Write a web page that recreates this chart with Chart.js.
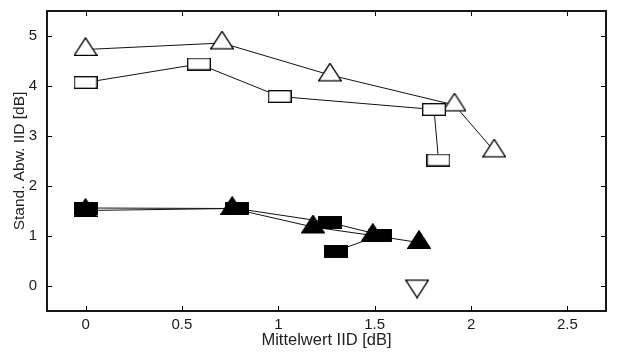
<!DOCTYPE html>
<html>
<head>
<meta charset="utf-8">
<script src="https://cdn.jsdelivr.net/npm/chart.js@4/dist/chart.umd.min.js"></script>
<style>
  html, body { margin: 0; padding: 0; background: #fff; }
  #wrap { width: 617px; height: 354px; }
</style>
</head>
<body>
<div id="wrap"><canvas id="c" width="617" height="354"></canvas></div>
<script>
// ---- data ----
const openTriX = [0, 0.708, 1.268, 1.914, 2.12];
const openTriY = [4.73, 4.86, 4.22, 3.62, 2.70];

const openSqX = [0, 0.588, 1.007, 1.808, 1.831];
const openSqY = [4.07, 4.44, 3.79, 3.53, 2.52];

const fillTriX = [0, 0.761, 1.18, 1.49, 1.73];
const fillTriY = [1.51, 1.55, 1.18, 1.01, 0.87];

const fillSqX = [0, 0.784, 1.266, 1.53, 1.30];
const fillSqY = [1.56, 1.55, 1.27, 1.02, 0.70];

const downTriX = [1.72];
const downTriY = [0];

const xTicks = [0, 0.5, 1, 1.5, 2, 2.5];
const yTicks = [0, 1, 2, 3, 4, 5];

const xTitle = 'Mittelwert IID [dB]';
const yTitle = 'Stand. Abw. IID [dB]';

// ---- marker images ----
function marker(kind, filled) {
  const c = document.createElement('canvas');
  const ctx = c.getContext('2d');
  const lw = 1.3;
  if (kind === 'rect') {
    c.width = 24; c.height = 13;
    ctx.fillStyle = filled ? '#000' : '#fff';
    ctx.fillRect(0.5, 0.5, 23, 12);
    ctx.strokeStyle = '#000'; ctx.lineWidth = lw;
    ctx.strokeRect(0.7, 0.7, 22.6, 11.6);
  } else if (kind === 'up') {
    c.width = 24; c.height = 25;
    ctx.beginPath();
    ctx.moveTo(12, 0.8); ctx.lineTo(23.3, 18.4); ctx.lineTo(0.7, 18.4); ctx.closePath();
    ctx.fillStyle = filled ? '#000' : '#fff'; ctx.fill();
    ctx.strokeStyle = '#000'; ctx.lineWidth = lw; ctx.stroke();
  } else {
    c.width = 24; c.height = 25;
    ctx.beginPath();
    ctx.moveTo(0.7, 6.6); ctx.lineTo(23.3, 6.6); ctx.lineTo(12, 24.2); ctx.closePath();
    ctx.fillStyle = filled ? '#000' : '#fff'; ctx.fill();
    ctx.strokeStyle = '#000'; ctx.lineWidth = lw; ctx.stroke();
  }
  return c;
}

function pts(xs, ys) { return xs.map((x, i) => ({ x: x, y: ys[i] })); }

function ds(xs, ys, style, line) {
  return {
    data: pts(xs, ys),
    showLine: line,
    borderColor: '#111',
    borderWidth: 1,
    backgroundColor: '#000',
    pointStyle: style,
    pointRadius: 10,
    pointHoverRadius: 10,
    tension: 0
  };
}

const frameTicks = {
  id: 'frameTicks',
  afterDraw(chart) {
    const { ctx, chartArea: a, scales } = chart;
    ctx.save();
    ctx.strokeStyle = '#000';
    ctx.lineWidth = 1;
    const L = 5;
    ctx.beginPath();
    xTicks.forEach(v => {
      const px = Math.round(scales.x.getPixelForValue(v)) + 0.5;
      ctx.moveTo(px, a.bottom); ctx.lineTo(px, a.bottom - L);
      ctx.moveTo(px, a.top); ctx.lineTo(px, a.top + L);
    });
    yTicks.forEach(v => {
      const py = Math.round(scales.y.getPixelForValue(v)) + 0.5;
      ctx.moveTo(a.left, py); ctx.lineTo(a.left + L, py);
      ctx.moveTo(a.right, py); ctx.lineTo(a.right - L, py);
    });
    ctx.stroke();
    ctx.lineWidth = 1.8;
    ctx.strokeRect(a.left, a.top, a.right - a.left, a.bottom - a.top);
    ctx.restore();
  }
};

const fam = '"Liberation Sans", Arial, Helvetica, sans-serif';
const tickFont = { family: fam, size: 15 };

function noPad(s) { s.paddingTop = 0; s.paddingBottom = 0; s.paddingLeft = 0; s.paddingRight = 0; }

new Chart(document.getElementById('c'), {
  type: 'scatter',
  data: {
    datasets: [
      ds(fillSqX, fillSqY, marker('rect', true), true),
      ds(fillTriX, fillTriY, marker('up', true), true),
      ds(openSqX, openSqY, marker('rect', false), true),
      ds(openTriX, openTriY, marker('up', false), true),
      ds(downTriX, downTriY, marker('down', false), false)
    ]
  },
  options: {
    responsive: false,
    animation: false,
    devicePixelRatio: 1,
    layout: { padding: { top: 9, right: 10, left: 0, bottom: 0 } },
    plugins: { legend: { display: false }, tooltip: { enabled: false } },
    scales: {
      x: {
        type: 'linear',
        min: -0.2, max: 2.7,
        afterBuildTicks: s => { s.ticks = xTicks.map(v => ({ value: v })); },
        afterFit: s => { s.height = 43; noPad(s); },
        grid: { display: false, drawTicks: false },
        border: { display: false },
        ticks: { font: tickFont, color: '#1a1a1a', padding: 5, maxRotation: 0, callback: v => String(v) },
        title: { display: true, text: xTitle, font: { family: fam, size: 16.5 }, color: '#222', padding: { top: 0, bottom: 4 } }
      },
      y: {
        type: 'linear',
        min: -0.5, max: 5.5,
        afterBuildTicks: s => { s.ticks = yTicks.map(v => ({ value: v })); },
        afterFit: s => { s.width = 47; noPad(s); },
        grid: { display: false, drawTicks: false },
        border: { display: false },
        ticks: { font: tickFont, color: '#1a1a1a', padding: 10, callback: v => String(v) },
        title: { display: true, text: yTitle, font: { family: fam, size: 15.5 }, color: '#222', padding: { top: 10, bottom: 0 } }
      }
    }
  },
  plugins: [frameTicks]
});
</script>
</body>
</html>
